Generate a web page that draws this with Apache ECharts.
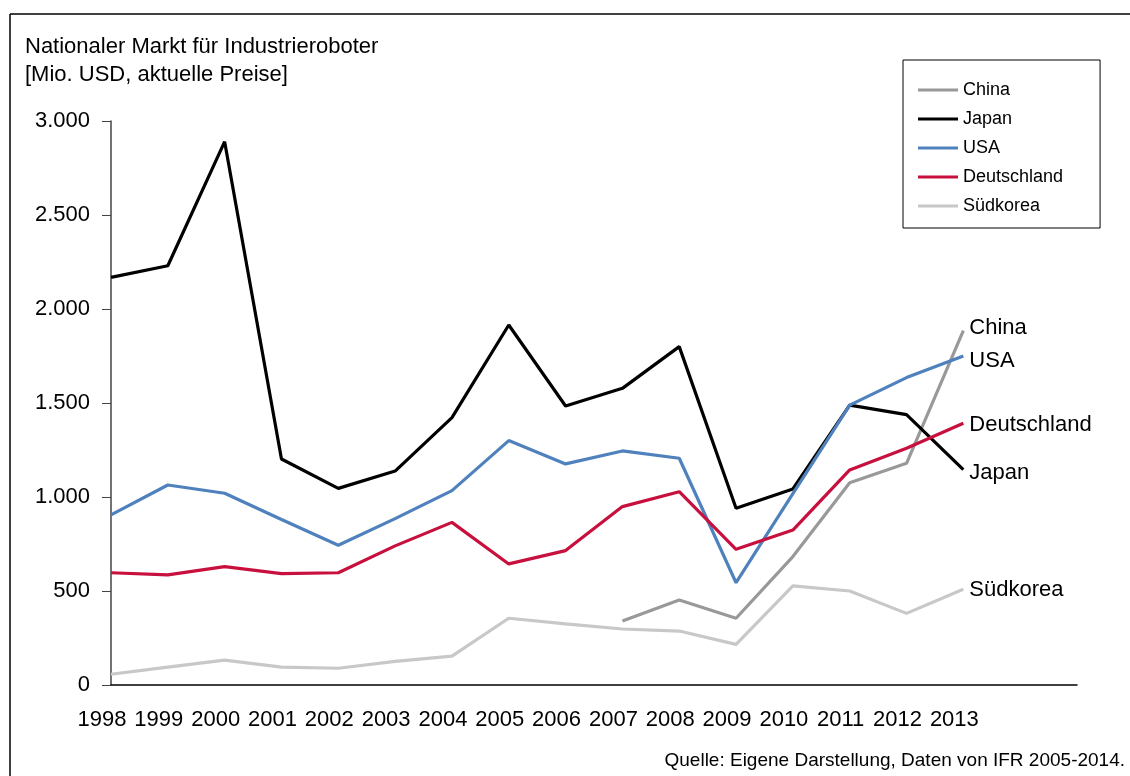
<!DOCTYPE html>
<html>
<head>
<meta charset="utf-8">
<script src="https://cdn.jsdelivr.net/npm/echarts@6/dist/echarts.min.js"></script>
<style>
    html, body {margin: 0; padding: 0; background: #fff;}
    #chart {width: 1130px; height: 776px;}
</style>
</head>
<body>
<div id="chart"></div>
<script>
// Jahre (x-Achse) und Werte in Mio. USD
var years = ['1998', '1999', '2000', '2001', '2002', '2003', '2004', '2005',
    '2006', '2007', '2008', '2009', '2010', '2011', '2012', '2013'];
var yTicks = [0, 500, 1000, 1500, 2000, 2500, 3000];

var china = [null, null, null, null, null, null, null, null, null, 340, 452, 355, 683, 1076, 1179, 1885];
var japan = [2168, 2230, 2890, 1202, 1046, 1138, 1422, 1915, 1484, 1578, 1800, 940, 1043, 1489, 1438, 1146];
var usa = [905, 1064, 1020, 880, 743, 885, 1034, 1300, 1176, 1245, 1206, 544, 1018, 1489, 1635, 1750];
var deutschland = [597, 586, 630, 592, 597, 740, 865, 644, 715, 949, 1028, 722, 824, 1144, 1259, 1392];
var suedkorea = [57, 95, 132, 95, 89, 126, 154, 355, 325, 298, 287, 216, 527, 500, 381, 509];

var fontFam = '"Liberation Sans", Arial, sans-serif';

function fmt(v) {
    // Tausenderpunkt wie im Original
    return String(v).replace(/\B(?=(\d{3})+(?!\d))/g, '.');
}

function makeLine(name, data, color, labelOffset) {
    return {
        name: name,
        type: 'line',
        data: data,
        symbol: 'none',
        connectNulls: false,
        lineStyle: {color: color, width: 3.2},
        itemStyle: {color: color},
        endLabel: {
            show: true,
            formatter: '{a}',
            color: '#000',
            fontSize: 22,
            fontFamily: fontFam,
            distance: 6,
            offset: [0, labelOffset || 0]
        },
        animation: false
    };
}

var myChart = echarts.init(document.getElementById('chart'));
var option = {
    backgroundColor: '#fff',
    animation: false,
    textStyle: {fontFamily: fontFam},
    grid: {left: 111, right: 53, top: 121, bottom: 91},
    legend: {
        orient: 'vertical',
        left: 903,
        top: 60,
        padding: [21, 37, 13, 15],
        borderColor: '#000',
        borderWidth: 1,
        icon: 'rect',
        itemWidth: 40,
        itemHeight: 3,
        itemGap: 11,
        textStyle: {fontSize: 18, color: '#000', fontFamily: fontFam},
        data: ['China', 'Japan', 'USA', 'Deutschland', 'Südkorea']
    },
    xAxis: {
        type: 'category',
        boundaryGap: false,
        data: years.concat(['', ' ']),
        axisLine: {lineStyle: {color: '#000', width: 1.5}},
        axisTick: {show: false},
        axisLabel: {
            color: '#000',
            fontSize: 22,
            margin: 24,
            padding: [0, 18, 0, 0],
            interval: 0
        }
    },
    yAxis: {
        type: 'value',
        min: yTicks[0],
        max: yTicks[yTicks.length - 1],
        interval: 500,
        axisLine: {show: true, lineStyle: {color: '#444', width: 1.5}},
        axisTick: {show: true, inside: false, length: 9, lineStyle: {color: '#444'}},
        splitLine: {show: false},
        axisLabel: {
            color: '#000',
            fontSize: 22,
            margin: 21,
            formatter: fmt
        }
    },
    graphic: [
        {
            type: 'text',
            left: 25,
            top: 33,
            style: {
                text: 'Nationaler Markt für Industrieroboter\n[Mio. USD, aktuelle Preise]',
                fontSize: 22,
                lineHeight: 28,
                fill: '#000',
                fontFamily: fontFam
            }
        },
        {
            type: 'text',
            right: 5,
            top: 751,
            style: {
                text: 'Quelle: Eigene Darstellung, Daten von IFR 2005-2014.',
                fontSize: 19,
                fill: '#000',
                fontFamily: fontFam
            }
        },
        {
            type: 'line',
            shape: {x1: 10, y1: 14, x2: 1130, y2: 14},
            style: {stroke: '#000', lineWidth: 1.5}
        },
        {
            type: 'line',
            shape: {x1: 10, y1: 14, x2: 10, y2: 776},
            style: {stroke: '#000', lineWidth: 1.5}
        }
    ],
    series: [
        makeLine('China', china, '#999999', -3),
        makeLine('Japan', japan, '#000000', 3),
        makeLine('USA', usa, '#4F81BD', 5),
        makeLine('Deutschland', deutschland, '#C8103E', 2),
        makeLine('Südkorea', suedkorea, '#C8C8C8', 1)
    ]
};
myChart.setOption(option);
</script>
</body>
</html>
